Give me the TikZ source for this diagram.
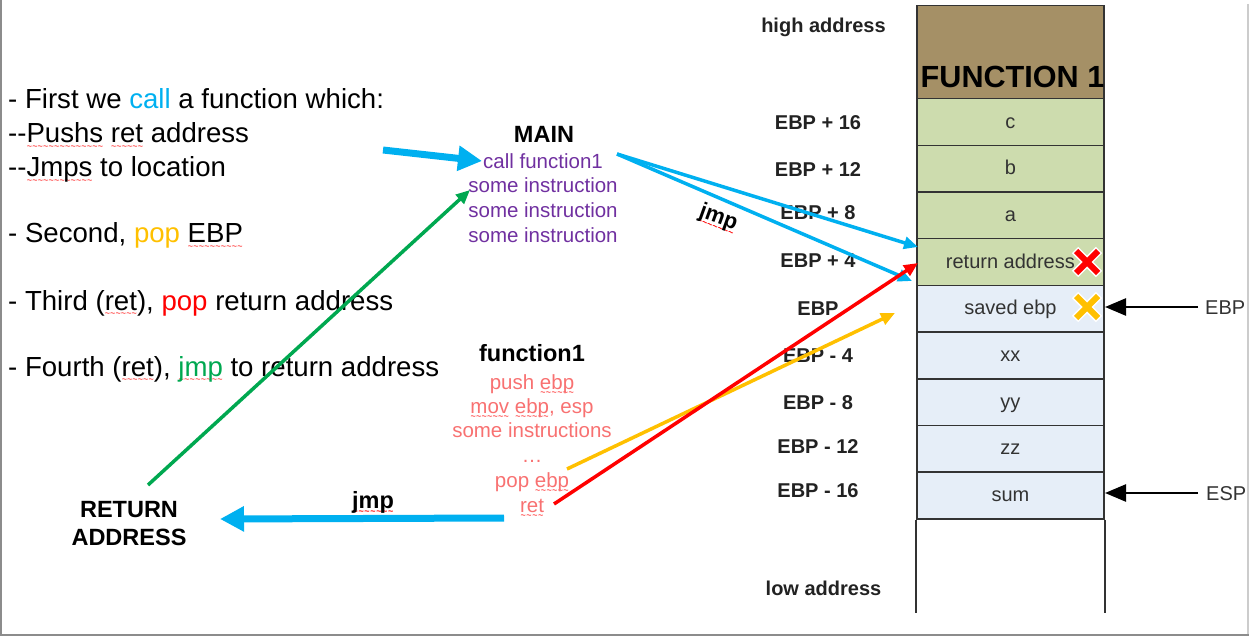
\documentclass[tikz,border=0pt]{standalone}
\usepackage{fontspec}
\setmainfont{Liberation Sans}
\usetikzlibrary{arrows.meta,calc}
\definecolor{cblue}{HTML}{00B0F0}
\definecolor{cgreen}{HTML}{00A850}
\definecolor{cyellow}{HTML}{FFC000}
\definecolor{cred}{HTML}{FF0000}
\definecolor{cpurple}{HTML}{7030A0}
\definecolor{cpink}{HTML}{F87171}
\definecolor{cbrown}{HTML}{A59066}
\definecolor{cgreencell}{HTML}{CDDCAE}
\definecolor{cbluecell}{HTML}{E6EEF8}
\definecolor{cborder}{HTML}{333333}
\definecolor{clabel}{HTML}{222222}
\newcommand\setfs[1]{\fontsize{#1}{#1}\selectfont}
\newcommand\sq[1]{\leavevmode\setbox0=\hbox{#1}\rlap{\textcolor{red}{\xleaders\hbox{\raisebox{-6.5pt}{\fontsize{9}{9}\selectfont\char"7E}}\hskip\wd0}}\box0\relax}
\tikzset{
  lt/.style={anchor=base west, inner sep=0pt, font=\setfs{27.6}},
  mainl/.style={anchor=base, inner sep=0pt, font=\setfs{20.5}, text=cpurple},
  funl/.style={anchor=base, inner sep=0pt, font=\setfs{20.5}, text=cpink},
  hdr/.style={anchor=base, inner sep=0pt, font=\bfseries\setfs{23.5}},
  slab/.style={anchor=base, inner sep=0pt, font=\bfseries\setfs{20}, text=clabel},
  cell/.style={draw=cborder, line width=1.5pt, anchor=north, minimum width=187.3pt,
    minimum height=46.67pt, inner sep=0pt, text height=12pt, text depth=0pt,
    font=\setfs{20}, text=cborder},
  gcell/.style={cell, fill=cgreencell},
  bcell/.style={cell, fill=cbluecell},
  thinarr/.style={line width=3.5pt, -{Triangle[length=14pt,width=12pt]}},
  thickarr/.style={line width=7pt, -{Triangle[length=24pt,width=24pt]}},
  ptr/.style={line width=2.5pt, -{Triangle[length=21pt,width=17pt]}},
  xwhite/.style={line width=9pt, white},
}
\begin{document}
\begin{tikzpicture}[x=1pt,y=-1pt]
\useasboundingbox (0,0) rectangle (1249,636);
% frame
\draw[line width=2pt, color=black!45] (1,0) -- (1,635) -- (1249,635);
\draw[line width=1.5pt, color=black!20] (1248,4) -- (1248,634);

% left text
\node[lt] (l1) at (8,109) {- First we \textcolor{cblue}{call} a function which:};
\node[lt] (l2) at (8,143) {-{}-\sq{Pushs} \sq{ret} address};
\node[lt] (l3) at (8,177) {-{}-\sq{Jmps} to location};
\node[lt] (l4) at (8,243) {- Second, \textcolor{cyellow}{pop} \sq{EBP}};
\node[lt] (l5) at (8,310) {- Third (\sq{ret}), \textcolor{cred}{pop} return address};
\node[lt] (l6) at (8,376) {- Fourth (\sq{ret}), \sq{\textcolor{cgreen}{jmp}} to return address};

% MAIN block
\node[hdr] (main) at (544,143) {MAIN};
\node[mainl] (callf) at (543,169) {call function1};
\node[mainl] (si1) at (543,193) {some instruction};
\node[mainl] (si2) at (543,218) {some instruction};
\node[mainl] (si3) at (543,243) {some instruction};

% function1 block
\node[hdr] (fun) at (532,361) {function1};
\node[funl] (f1) at (532,389) {push \sq{ebp}};
\node[funl] (f2) at (532,413) {\sq{mov} \sq{ebp}, esp};
\node[funl] (f3) at (532,437) {some instructions};
\node[funl] (f4) at (532,462) {\dots};
\node[funl] (f5) at (532,487) {pop \sq{ebp}};
\node[funl] (f6) at (532,512) {\sq{ret}};

% return address
\node[hdr] (ra1) at (129,517) {RETURN};
\node[hdr] (ra2) at (129,545) {ADDRESS};

% jmp labels
\node[anchor=center, inner sep=0pt, font=\bfseries\setfs{22}, rotate=-20] (jmp1) at (718,219) {\sq{jmp}};
\node[anchor=base, inner sep=0pt, font=\bfseries\setfs{23.5}] (jmp2) at (373,508) {\sq{jmp}};

% stack
\node[cell, fill=cbrown, minimum height=93pt] (top) at (1010.4,5) {};
\node[anchor=base, inner sep=0pt, font=\bfseries\setfs{30.6}] (fn1) at (1012.5,88) {FUNCTION 1};
\node[gcell] (cc) at (1010.4,98) {c};
\node[gcell] (cb) at (1010.4,144.67) {b};
\node[gcell] (ca) at (1010.4,191.33) {a};
\node[gcell] (cret) at (1010.4,238) {return address\hspace{18pt}};
\node[bcell] (csav) at (1010.4,284.67) {saved ebp};
\node[bcell] (cxx) at (1010.4,331.33) {xx};
\node[bcell] (cyy) at (1010.4,378) {yy};
\node[bcell] (czz) at (1010.4,424.67) {zz};
\node[bcell] (csum) at (1010.4,471.33) {sum};
\draw[draw=cborder, line width=1.5pt] (csum.south west) -- ++(0,93);
\draw[draw=cborder, line width=1.5pt] (csum.south east) -- ++(0,93);

% stack labels
\node[slab] (hi) at (823.5,33) {high address};
\node[slab] (e16) at (818,130) {EBP + 16};
\node[slab] (e12) at (818,177) {EBP + 12};
\node[slab] (e8) at (818,220) {EBP + 8};
\node[slab] (e4) at (818,267) {EBP + 4};
\node[slab] (e0) at (818,315) {EBP};
\node[slab] (em4) at (818,362) {EBP - 4};
\node[slab] (em8) at (818,409) {EBP - 8};
\node[slab] (em12) at (818,453) {EBP - 12};
\node[slab] (em16) at (818,497) {EBP - 16};
\node[slab] (lo) at (823.5,595) {low address};

% X marks
\coordinate (xr) at (1087,262);
\coordinate (xy) at (1087,307);
\foreach \c/\p in {cred/xr, cyellow/xy}{
  \draw[xwhite] ($(\p)+(-12,-12)$) -- ($(\p)+(12,12)$);
  \draw[xwhite] ($(\p)+(-12,12)$) -- ($(\p)+(12,-12)$);
  \draw[line width=6pt, \c] ($(\p)+(-11,-11)$) -- ($(\p)+(11,11)$);
  \draw[line width=6pt, \c] ($(\p)+(-11,11)$) -- ($(\p)+(11,-11)$);
}

% EBP / ESP pointers
\node[anchor=base west, inner sep=0pt, font=\setfs{20}, text=cborder] (ebpl) at (1205,314) {EBP};
\node[anchor=base west, inner sep=0pt, font=\setfs{20}, text=cborder] (espl) at (1206,500) {ESP};
\coordinate (pe1) at (1198,307);
\coordinate (pe2) at (1105,307);
\coordinate (ps1) at (1198,493);
\coordinate (ps2) at (1105,493);
\draw[ptr] (pe1) -- (pe2);
\draw[ptr] (ps1) -- (ps2);

% connectors
\coordinate (bs) at (383,150);
\coordinate (bt) at (482,161);
\draw[thickarr, cblue] (bs) -- (bt);
\coordinate (js) at (617,154);
\coordinate (jt1) at (918,247);
\coordinate (jt2) at (912,281);
\draw[thinarr, cblue] (js) -- (jt1);
\draw[thinarr, cblue] (js) -- (jt2);
\coordinate (gs) at (148,485);
\coordinate (gt) at (470,190);
\draw[thinarr, cgreen] (gs) -- (gt);
\coordinate (ys) at (567,469);
\coordinate (yt) at (895,313);
\draw[thinarr, cyellow] (ys) -- (yt);
\coordinate (rs) at (554,504);
\coordinate (rt) at (918,263);
\draw[thinarr, cred] (rs) -- (rt);
\coordinate (ks) at (504,518);
\coordinate (kt) at (220,519);
\draw[thickarr, cblue] (ks) -- (kt);
\end{tikzpicture}
\end{document}
